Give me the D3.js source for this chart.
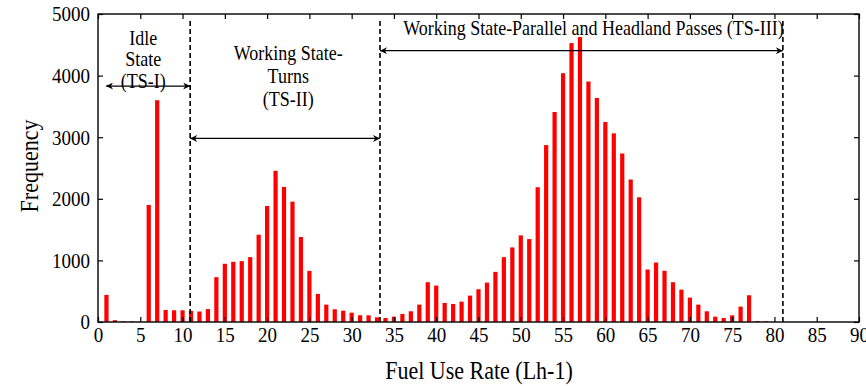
<!DOCTYPE html>
<html>
<head>
<meta charset="utf-8">
<script src="https://cdn.jsdelivr.net/npm/d3@7/dist/d3.min.js"></script>
<style>
  html, body { margin: 0; padding: 0; background: #fff; }
  svg { display: block; }
  text { font-family: "Liberation Serif", "Times New Roman", serif; fill: #000;
         transform-box: fill-box; transform-origin: center; transform: scaleY(1.13); }
</style>
</head>
<body>
<svg id="chart" width="866" height="386"></svg>
<script>
// ---- Data ----
const fuelRates = d3.range(1, 80); // 1..79 Lh-1
const frequencies = [
  440, 30, 10, 10, 5, 1900, 3600, 195, 190, 190,
  180, 170, 210, 728, 945, 977, 988, 1053, 1417, 1884,
  2454, 2193, 1954, 1380, 830, 456, 282, 207, 184, 151,
  109, 109, 76, 65, 87, 130, 174, 282, 646, 591,
  309, 293, 331, 428, 532, 640, 814, 1053, 1211, 1406,
  1346, 2188, 2872, 3409, 4039, 4528, 4625, 3904, 3637, 3246,
  3062, 2736, 2313, 2025, 852, 966, 831, 646, 526, 396,
  282, 174, 87, 65, 109, 250, 434, 15, 10
];
const xTicks = d3.range(0, 91, 5);
const yTicks = [0, 1000, 2000, 3000, 4000, 5000];
const stateBounds = [10.9, 33.35, 81.0];           // dashed separators (Lh-1)
const stateNames = ["TS-I", "TS-II", "TS-III"];
const stateArrows = [                                // [from, to, frequency level]
  [0.95, 10.9, 3830],
  [10.9, 33.35, 2980],
  [33.35, 81.0, 4405]
];
const stateLabels = [
  ["Idle", "State", "(TS-I)"],
  ["Working State-", "Turns", "(TS-II)"],
  ["Working State-Parallel and Headland Passes (TS-III)"]
];
const xTitle = "Fuel Use Rate (Lh-1)";
const yTitle = "Frequency";

// ---- Layout ----
const svg = d3.select("#chart");
const M = { left: 98, right: 859, top: 14, bottom: 322 };
const x = d3.scaleLinear().domain([0, 90]).range([M.left, M.right]);
const y = d3.scaleLinear().domain([0, 5000]).range([M.bottom, M.top]);
const barW = 4.2;

// defs: arrowheads
const defs = svg.append("defs");
["start", "end"].forEach(k => {
  defs.append("marker")
    .attr("id", "arrow-" + k)
    .attr("viewBox", "0 0 10 10")
    .attr("refX", k === "end" ? 10 : 0)
    .attr("refY", 5)
    .attr("markerWidth", 9)
    .attr("markerHeight", 7)
    .attr("markerUnits", "userSpaceOnUse")
    .attr("orient", "auto")
    .append("path")
    .attr("d", k === "end" ? "M0,0 L10,5 L0,10 L3,5 Z" : "M10,0 L0,5 L10,10 L7,5 Z")
    .attr("fill", "#000");
});

// Bars
svg.append("g").selectAll("rect")
  .data(fuelRates.map((r, i) => ({ r, f: frequencies[i] })))
  .join("rect")
  .attr("x", d => x(d.r) - barW / 2)
  .attr("width", barW)
  .attr("y", d => y(d.f))
  .attr("height", d => y(0) - y(d.f))
  .attr("fill", "#ff0000");

// Axes (inward ticks on all four sides)
const tickFont = "19px";
const gB = svg.append("g").attr("transform", `translate(0,${M.bottom})`)
  .call(d3.axisBottom(x).tickValues(xTicks).tickSizeInner(-5).tickSizeOuter(0).tickPadding(6).tickFormat(d3.format("d")));
const gT = svg.append("g").attr("transform", `translate(0,${M.top})`)
  .call(d3.axisTop(x).tickValues(xTicks).tickSizeInner(-5).tickSizeOuter(0).tickFormat(""));
const gL = svg.append("g").attr("transform", `translate(${M.left},0)`)
  .call(d3.axisLeft(y).tickValues(yTicks).tickSizeInner(-5).tickSizeOuter(0).tickPadding(8).tickFormat(d3.format("d")));
const gR = svg.append("g").attr("transform", `translate(${M.right},0)`)
  .call(d3.axisRight(y).tickValues(yTicks).tickSizeInner(-5).tickSizeOuter(0).tickFormat(""));
[gB, gT, gL, gR].forEach(g => {
  g.select(".domain").remove();
  g.selectAll("line").attr("stroke", "#000").attr("stroke-width", 1.2);
  g.selectAll("text").style("font-family", '"Liberation Serif", serif').style("font-size", tickFont).attr("fill", "#000");
});
// Frame
svg.append("rect")
  .attr("x", M.left).attr("y", M.top)
  .attr("width", M.right - M.left).attr("height", M.bottom - M.top)
  .attr("fill", "none").attr("stroke", "#000").attr("stroke-width", 1.4);

// Dashed separators
svg.append("g").selectAll("line")
  .data(stateBounds)
  .join("line")
  .attr("x1", d => x(d)).attr("x2", d => x(d))
  .attr("y1", M.top + 7).attr("y2", M.bottom)
  .attr("stroke", "#000").attr("stroke-width", 1.6)
  .attr("stroke-dasharray", "5,3");

// Double-headed arrows
svg.append("g").selectAll("line")
  .data(stateArrows)
  .join("line")
  .attr("x1", d => x(d[0])).attr("x2", d => x(d[1]))
  .attr("y1", d => y(d[2])).attr("y2", d => y(d[2]))
  .attr("stroke", "#000").attr("stroke-width", 1.3)
  .attr("marker-start", "url(#arrow-start)")
  .attr("marker-end", "url(#arrow-end)");

// State labels
const annFont = "18px";
const labelPos = [
  { cx: x(5.35), y0: 44, dy: 21.5 },
  { cx: x(22.5), y0: 59, dy: 23 },
  { cx: x(58.6), y0: 34, dy: 0 }
];
stateLabels.forEach((lines, i) => {
  const p = labelPos[i];
  lines.forEach((ln, j) => {
    svg.append("text")
      .attr("text-anchor", "middle")
      .attr("x", p.cx).attr("y", p.y0 + j * p.dy)
      .style("font-size", annFont)
      .text(ln);
  });
});

// Axis titles
svg.append("text")
  .attr("x", (M.left + M.right) / 2 + 0.5).attr("y", 378)
  .attr("text-anchor", "middle")
  .style("font-size", "22px")
  .text(xTitle);
svg.append("g")
  .attr("transform", `translate(37,166) rotate(-90)`)
  .append("text")
  .attr("text-anchor", "middle")
  .style("font-size", "22px")
  .text(yTitle);
</script>
</body>
</html>
